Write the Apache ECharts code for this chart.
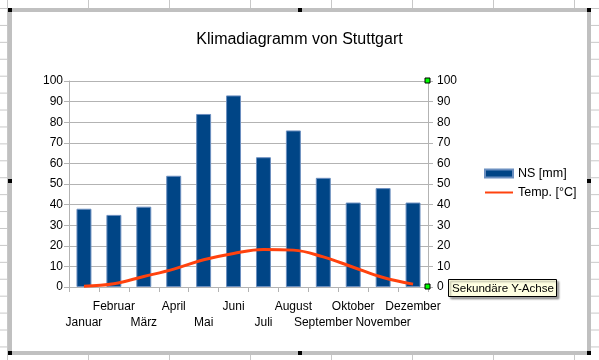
<!DOCTYPE html>
<html><head><meta charset="utf-8">
<script src="https://cdn.jsdelivr.net/npm/echarts@6/dist/echarts.min.js"></script>
<style>
html,body{margin:0;padding:0;width:599px;height:360px;overflow:hidden;background:#fff;}
#bg{position:absolute;left:0;top:0;width:599px;height:360px;
background-image: linear-gradient(to right, #c8c8c8 1px, transparent 1px), linear-gradient(to bottom, #c8c8c8 1px, transparent 1px);
background-size: 81px 100%, 100% 16.93px;
background-position: 7px 0, 0 8px;}
#frame{position:absolute;left:8px;top:8px;width:575px;height:339px;border:4px solid #c0c0c0;background:#fff;}
.h{position:absolute;width:4px;height:4px;background:#000;}
#chart{position:absolute;left:0;top:0;width:599px;height:360px;}
</style>
</head><body>
<div id="bg"></div>
<div id="frame"></div>
<div class="h" style="left:8px;top:8px"></div>
<div class="h" style="left:298px;top:8px"></div>
<div class="h" style="left:587px;top:8px"></div>
<div class="h" style="left:8px;top:179px"></div>
<div class="h" style="left:587px;top:179px"></div>
<div class="h" style="left:8px;top:351px"></div>
<div class="h" style="left:298px;top:351px"></div>
<div class="h" style="left:587px;top:351px"></div>
<div id="chart"></div>
<script>
const months = ['Januar','Februar','März','April','Mai','Juni','Juli','August','September','Oktober','November','Dezember'];
const precipitation = [38, 35, 39, 54, 84, 93, 63, 76, 53, 41, 48, 41];
const temperature = [0.4, 1.6, 5.1, 8.7, 13.2, 16.3, 18.2, 17.9, 14.6, 9.6, 4.6, 1.4];
const yMin = 0, yMax = 100, yStep = 10;

const FONT = 'Liberation Sans, Arial, sans-serif';
const GRAY = '#b3b3b3';
const chart = echarts.init(document.getElementById('chart'), null, {renderer: 'canvas'});

const yAxisBase = {
  type: 'value', min: yMin, max: yMax, interval: yStep,
  axisLine: {show: true, lineStyle: {color: GRAY, width: 1}},
  axisTick: {show: true, length: 5, lineStyle: {color: GRAY}},
  axisLabel: {fontSize: 12, color: '#000', fontFamily: FONT}
};

chart.setOption({
  backgroundColor: 'transparent',
  animation: false,
  title: {
    text: 'Klimadiagramm von Stuttgart', left: 'center', top: 27,
    textStyle: {fontSize: 16, fontWeight: 'normal', color: '#000', fontFamily: FONT}
  },
  legend: {
    orient: 'vertical', left: 484, top: 167, padding: 0, itemWidth: 28, itemHeight: 8, itemGap: 6,
    textStyle: {fontSize: 12.5, color: '#000', fontFamily: FONT},
    data: [
      {name: 'NS [mm]', icon: 'rect'},
      {name: 'Temp. [°C]', icon: 'path://M0,0H28V2H0Z'}
    ]
  },
  grid: {left: 69, right: 171, top: 81, bottom: 73},
  xAxis: {
    type: 'category', data: months, boundaryGap: true,
    axisLine: {lineStyle: {color: GRAY}},
    axisTick: {show: true, length: 5, interval: 0, lineStyle: {color: GRAY}},
    axisLabel: {
      interval: 0, margin: 12, lineHeight: 16, fontSize: 12, color: '#000', fontFamily: FONT,
      formatter: (v, i) => (i % 2 === 0 ? '\n' + v : v)
    }
  },
  yAxis: [
    Object.assign({}, yAxisBase, {position: 'left', splitLine: {show: true, lineStyle: {color: GRAY}},
      axisLabel: Object.assign({}, yAxisBase.axisLabel, {margin: 6})}),
    Object.assign({}, yAxisBase, {position: 'right', splitLine: {show: false},
      axisLabel: Object.assign({}, yAxisBase.axisLabel, {margin: 9})})
  ],
  series: [
    {
      name: 'NS [mm]', type: 'bar', data: precipitation, barWidth: '50%',
      itemStyle: {color: '#004586', borderColor: '#6b8fc0', borderWidth: 1}
    },
    {
      name: 'Temp. [°C]', type: 'line', yAxisIndex: 1, data: temperature, smooth: 0.4,
      symbol: 'none', z: 5,
      lineStyle: {color: '#ff420e', width: 3},
      itemStyle: {color: '#ff420e'}
    }
  ]
});

const xr = 599 - 171;
const yTop = chart.convertToPixel({yAxisIndex: 1}, yMax);
const yBot = chart.convertToPixel({yAxisIndex: 1}, yMin);
chart.setOption({
  graphic: [
    {type: 'rect', shape: {x: xr - 3, y: yTop - 3, width: 5, height: 5}, style: {fill: '#00ff00', stroke: '#000', lineWidth: 1}, z: 100},
    {type: 'rect', shape: {x: xr - 3, y: yBot - 3, width: 5, height: 5}, style: {fill: '#00ff00', stroke: '#000', lineWidth: 1}, z: 100},
    {type: 'rect', shape: {x: 448.5, y: 279.5, width: 108, height: 17},
      style: {fill: '#ffffe1', stroke: '#000', lineWidth: 1, shadowBlur: 2, shadowOffsetX: 2, shadowOffsetY: 2, shadowColor: 'rgba(0,0,0,0.35)'}, z: 100},
    {type: 'text', x: 452, y: 288.5, style: {text: 'Sekundäre Y-Achse', fontSize: 11.6, fontFamily: FONT, fill: '#000', verticalAlign: 'middle'}, z: 101}
  ]
});
</script>
</body></html>
